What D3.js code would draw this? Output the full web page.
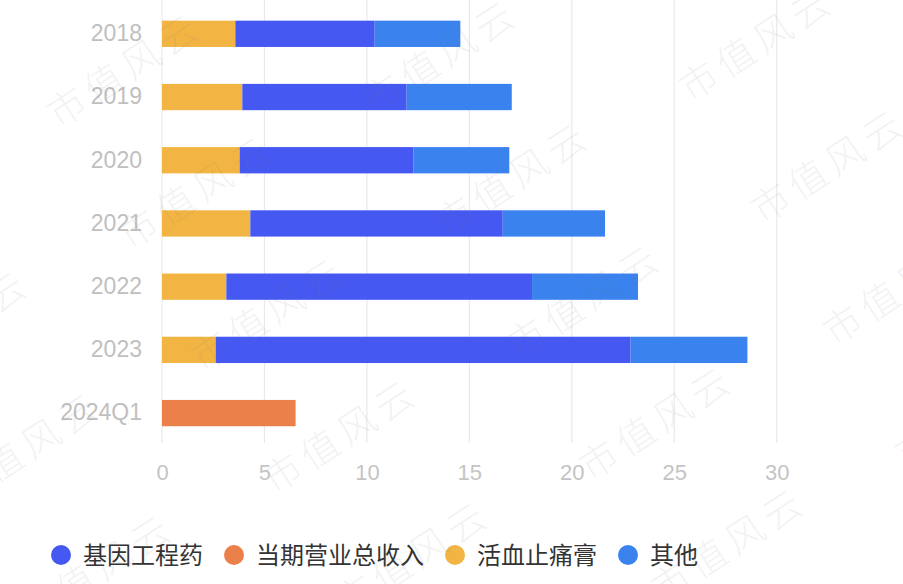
<!DOCTYPE html>
<html>
<head>
<meta charset="utf-8">
<script src="https://cdn.jsdelivr.net/npm/d3@7"></script>
<style>
html,body{margin:0;padding:0;background:#fff;}
svg{display:block;}
</style>
</head>
<body>
<svg id="chart" width="903" height="584"></svg>
<script>
// ---- data ----
const categories = ["2018","2019","2020","2021","2022","2023","2024Q1"];
const huoxue  = [3.58, 3.92, 3.79, 4.31, 3.14, 2.62, 0];      // 活血止痛膏
const jiyin   = [6.80, 8.02, 8.49, 12.32, 14.92, 20.25, 0];   // 基因工程药
const qita    = [4.18, 5.13, 4.67, 4.99, 5.17, 5.70, 0];      // 其他
const zongshouru = [0, 0, 0, 0, 0, 0, 6.52];                  // 当期营业总收入
const xTicks = [0, 5, 10, 15, 20, 25, 30];
const seriesNames = ["活血止痛膏", "基因工程药", "其他", "当期营业总收入"];
const legendNames = ["基因工程药", "当期营业总收入", "活血止痛膏", "其他"];
const colors = {"基因工程药":"#4559F2","当期营业总收入":"#EC804A","活血止痛膏":"#F2B543","其他":"#3A82EE"};

const rows = categories.map((c,i)=>({cat:c,"活血止痛膏":huoxue[i],"基因工程药":jiyin[i],"其他":qita[i],"当期营业总收入":zongshouru[i]}));

const svg = d3.select("#chart");
const x = d3.scaleLinear().domain([0,30]).range([162, 776.7]);
const y = d3.scaleBand().domain(categories).range([2.2, 444.7]).paddingInner(0.584).paddingOuter(0.292);

// gridlines
svg.append("g").selectAll("line").data(xTicks).join("line")
  .attr("x1", d=>x(d)).attr("x2", d=>x(d))
  .attr("y1", 0).attr("y2", 443)
  .attr("stroke", "#e9e9ec").attr("stroke-width", 1.2);

// bars
const stacked = d3.stack().keys(seriesNames)(rows);
svg.append("g").selectAll("g").data(stacked).join("g")
  .attr("fill", d=>colors[d.key])
  .selectAll("rect").data(d=>d.filter(p=>p[1]-p[0]>0)).join("rect")
  .attr("x", d=>x(d[0]))
  .attr("width", d=>x(d[1])-x(d[0]))
  .attr("y", d=>y(d.data.cat))
  .attr("height", y.bandwidth());

// y axis labels
const yAxis = d3.axisLeft(y).tickSize(0).tickPadding(20);
const gy = svg.append("g").attr("transform", `translate(${x(0)},0)`).call(yAxis);
gy.select(".domain").remove();
gy.selectAll("text").attr("fill","#bfbfbf").style("font-family","'Liberation Sans', Arial, sans-serif").style("font-size","23px");

// x axis labels
const xAxis = d3.axisBottom(x).tickValues(xTicks).tickSize(0).tickPadding(0);
const gx = svg.append("g").attr("transform", `translate(0,472)`).call(xAxis);
gx.select(".domain").remove();
gx.selectAll("text").attr("fill","#c4c4c4").attr("dy","0.35em").style("font-family","'Liberation Sans', Arial, sans-serif").style("font-size","22px");

// legend
const lg = svg.append("g").attr("transform","translate(0,555)");
let lx = 61;
legendNames.forEach(name=>{
  lg.append("circle").attr("cx", lx).attr("cy", 0).attr("r", 10).attr("fill", colors[name]);
  const t = lg.append("text").attr("x", lx+22).attr("y", 0).attr("dy","0.36em")
    .attr("fill","#333").style("font-family","'Noto Sans CJK SC', sans-serif").style("font-size","24px")
    .text(name);
  const w = t.node().getComputedTextLength();
  lx = lx + 22 + w + 31;
});

// watermark
const wm = svg.append("g").attr("pointer-events","none");
for (let i=-2;i<=3;i++){
  for (let j=-1;j<=5;j++){
    const cx = 125 + i*316 + j*72;
    const cy = 70 - i*13 + j*122;
    if (cx < -150 || cx > 1050 || cy < -100 || cy > 700) continue;
    wm.append("text")
      .attr("transform", `translate(${cx},${cy}) rotate(-33)`)
      .attr("text-anchor","middle").attr("dy","0.35em")
      .attr("fill","rgba(120,120,120,0.10)")
      .style("font-family","'Noto Sans CJK SC', sans-serif").style("font-weight","300")
      .style("font-size","38px").style("letter-spacing","6px")
      .text("市值风云");
  }
}
</script>
</body>
</html>
